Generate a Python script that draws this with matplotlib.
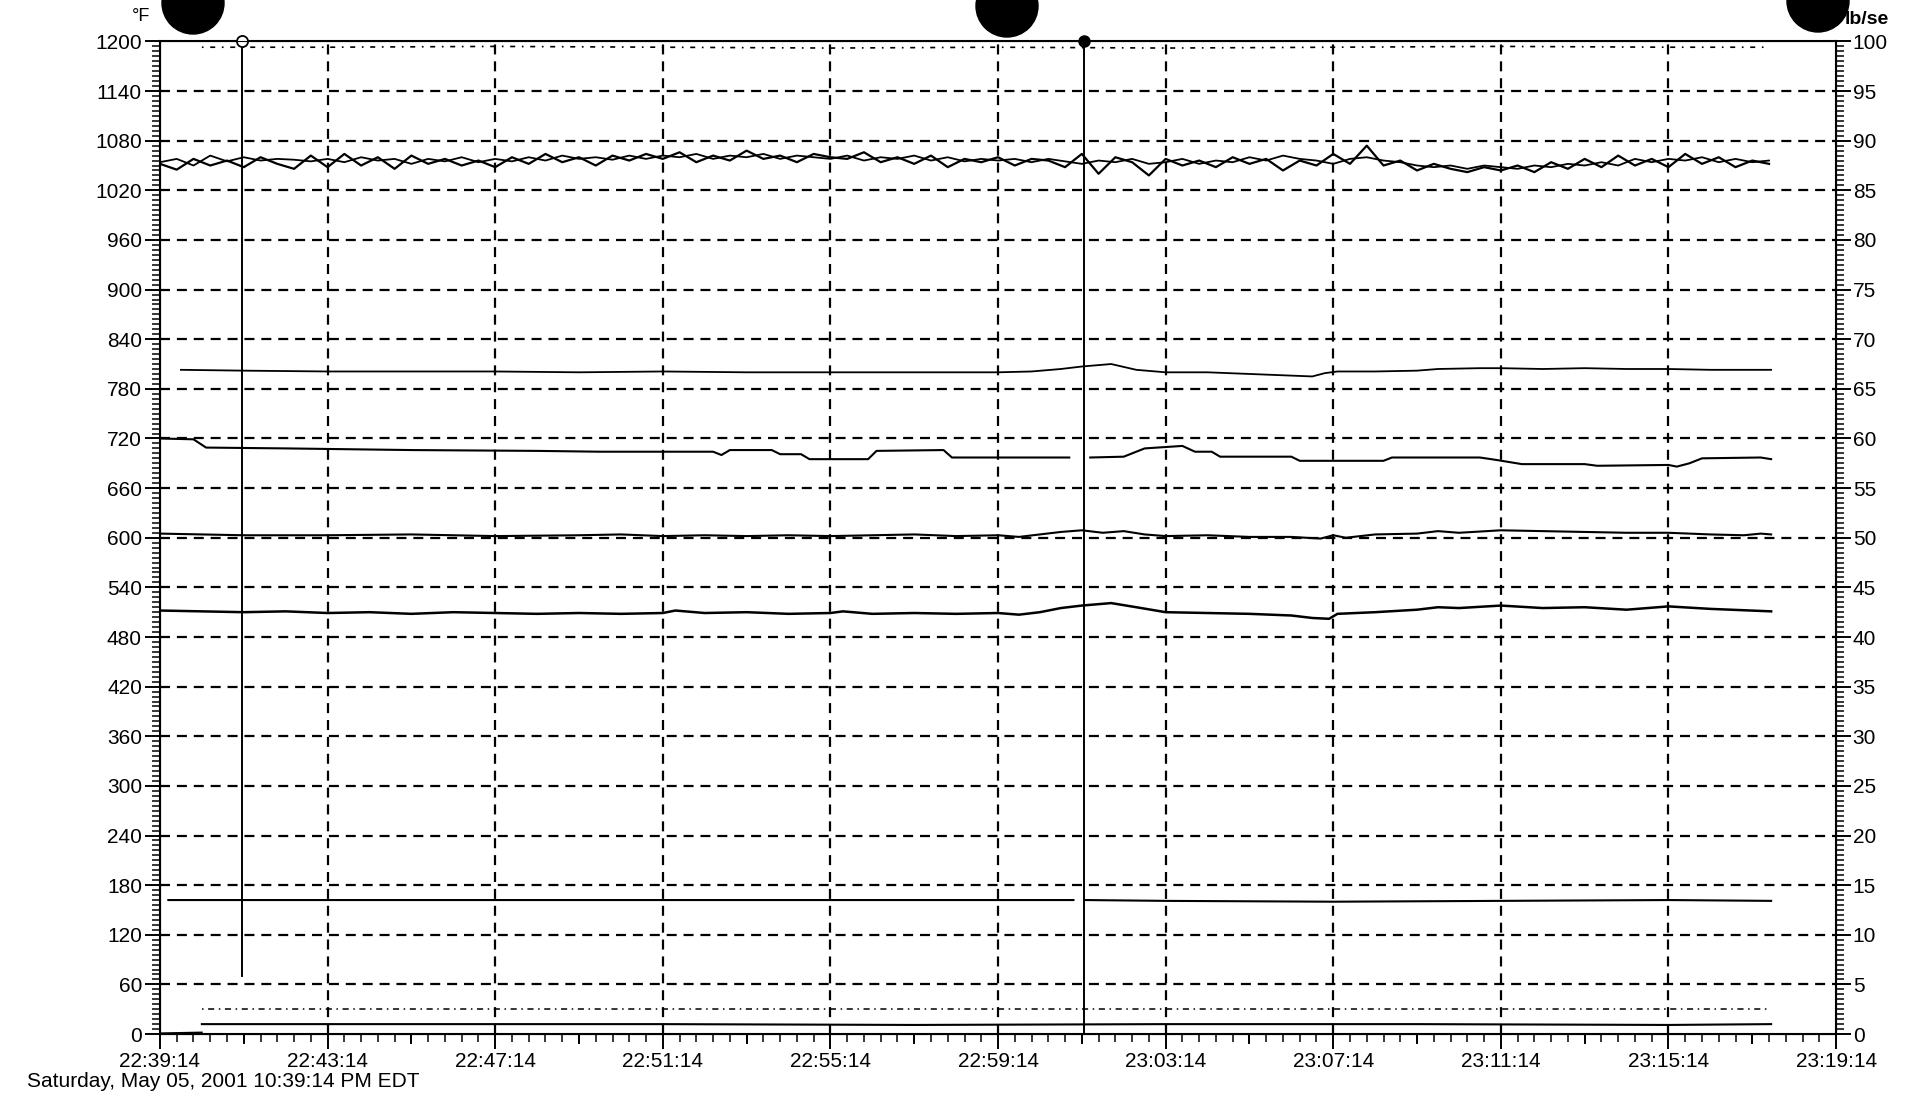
import numpy as np
import matplotlib
matplotlib.use("Agg")
import matplotlib.pyplot as plt
from matplotlib.patches import Ellipse
from matplotlib.ticker import MultipleLocator

plt.rcParams['font.family'] = ['Liberation Sans', 'DejaVu Sans']

# time axis: minutes after 22:39:14
TIME_TICKS = [0, 4, 8, 12, 16, 20, 24, 28, 32, 36, 40]
TIME_LABELS = ["22:39:14", "22:43:14", "22:47:14", "22:51:14", "22:55:14", "22:59:14",
               "23:03:14", "23:07:14", "23:11:14", "23:15:14", "23:19:14"]
DATE_TEXT = "Saturday, May 05, 2001 10:39:14 PM EDT"

# two noisy temperature traces, sampled every 0.4 min
noisy_a = [1052, 1045, 1058, 1050, 1056, 1048, 1060, 1052, 1046, 1062,
           1048, 1064, 1050, 1060, 1046, 1062, 1052, 1058, 1050, 1056,
           1048, 1060, 1052, 1064, 1054, 1060, 1050, 1062, 1056, 1064,
           1058, 1066, 1054, 1062, 1056, 1068, 1058, 1062, 1054, 1064,
           1060, 1058, 1066, 1054, 1060, 1052, 1062, 1048, 1058, 1054,
           1060, 1050, 1058, 1056, 1048, 1064, 1040, 1060, 1054, 1038,
           1058, 1050, 1056, 1048, 1060, 1052, 1058, 1044, 1056, 1050,
           1064, 1052, 1074, 1050, 1056, 1044, 1052, 1046, 1042, 1048,
           1044, 1050, 1042, 1054, 1046, 1058, 1048, 1062, 1050, 1058,
           1048, 1064, 1052, 1060, 1048, 1056, 1052]
noisy_b = [1054, 1058, 1050, 1062, 1055, 1060, 1056, 1058, 1057, 1055,
           1058, 1054, 1060, 1056, 1058, 1052, 1058, 1055, 1060, 1054,
           1058, 1055, 1060, 1056, 1062, 1058, 1060, 1057, 1062, 1058,
           1062, 1060, 1064, 1058, 1062, 1060, 1064, 1058, 1062, 1060,
           1058, 1062, 1056, 1060, 1058, 1062, 1056, 1060, 1055, 1058,
           1056, 1058, 1054, 1058, 1055, 1052, 1056, 1054, 1058, 1052,
           1054, 1058, 1052, 1056, 1054, 1060, 1056, 1062, 1058, 1056,
           1052, 1058, 1060, 1056, 1054, 1050, 1048, 1050, 1046, 1050,
           1048, 1046, 1050, 1048, 1052, 1050, 1054, 1050, 1058, 1054,
           1058, 1056, 1060, 1054, 1058, 1054, 1056]
t_noisy = np.arange(len(noisy_a)) * 0.4

# top trace near full scale
t_top = [1.0, 4, 8, 12, 16, 20, 24, 28, 32, 36, 38.4]
v_top = [1193, 1193, 1194, 1193, 1192, 1193, 1192, 1193, 1194, 1193, 1193]

t_800 = [0.5, 2, 4, 6, 8, 10, 12, 14, 16, 18, 20, 20.8, 21.5, 22, 22.7, 23.3, 24, 25, 26,
         26.5, 27.5, 27.8, 28.1, 29, 30, 30.5, 31.5, 32, 33, 34, 35, 36, 37, 38.45]
v_800 = [803, 802, 801, 801, 801, 800, 801, 800, 800, 800, 800, 801, 804, 807, 810, 803, 800,
         800, 798, 797, 795, 799, 801, 801, 802, 804, 805, 805, 804, 805, 804, 804, 803, 803]

t_700 = [0, 0.8, 1.1, 3, 6, 9, 10.5, 13.2, 13.4, 13.6, 14.6, 14.8, 15.3, 15.5, 16.9, 17.1,
         18.7, 18.9, 21.7, 21.9, 22.2, 23.0, 23.5, 24.4, 24.7, 25.1, 25.3, 27.0, 27.2, 29.2,
         29.4, 31.5, 31.9, 32.5, 34.0, 34.3, 36.0, 36.2, 36.5, 36.8, 38.2, 38.45]
v_700 = [720, 719, 709, 708, 706, 705, 704, 704, 700, 706, 706, 701, 701, 695, 695, 705,
         706, 697, 697, np.nan, 697, 698, 708, 711, 704, 704, 698, 698, 693, 693,
         697, 697, 694, 689, 689, 687, 688, 686, 690, 696, 697, 695]

t_600 = [0, 1, 2, 4, 6, 8, 10, 11, 12, 13, 14, 15, 16, 17, 18, 19, 20, 20.5, 21, 21.5, 22,
         22.5, 23, 23.5, 24, 25, 26, 27, 27.7, 28, 28.3, 29, 30, 30.5, 31, 32, 33, 34, 35,
         36, 37, 37.8, 38.2, 38.45]
v_600 = [605, 604, 603, 603, 604, 602, 603, 604, 602, 603, 602, 603, 602, 603, 604, 602, 603,
         601, 604, 607, 609, 606, 608, 604, 602, 603, 601, 601, 599, 603, 600, 604, 605, 608,
         606, 609, 608, 607, 606, 606, 604, 603, 605, 604]

t_510 = [0, 1, 2, 3, 4, 5, 6, 7, 8, 9, 10, 11, 12, 12.3, 13, 14, 15, 16, 16.3, 17, 18, 19,
         20, 20.5, 21, 21.5, 22, 22.7, 23.3, 24, 25, 26, 27, 27.5, 27.9, 28.1, 29, 30, 30.5,
         31, 32, 33, 34, 35, 36, 37, 38.45]
v_510 = [512, 511, 510, 511, 509, 510, 508, 510, 509, 508, 509, 508, 509, 512, 509, 510, 508,
         509, 511, 508, 509, 508, 509, 507, 510, 515, 518, 521, 516, 510, 509, 508, 506, 503,
         502, 508, 510, 513, 516, 515, 518, 515, 516, 513, 517, 514, 511]

t_160 = [0.2, 4, 8, 12, 16, 20, 21.8, 21.9, 22.1, 24, 28, 32, 36, 38.45]
v_160 = [162, 162, 162, 162, 162, 162, 162, np.nan, 162, 161, 160, 161, 162, 161]

t_30 = [1.0, 6, 12, 18, 24, 30, 36, 38.45]
v_30 = [30, 30, 30, 30, 30, 30, 30, 30]

t_12 = [1.0, 6, 12, 18, 24, 30, 36, 38.45]
v_12 = [12, 12, 12, 11, 12, 12, 11, 12]

t_zero = [0, 1.0]
v_zero = [1, 2]

cursor_1 = 1.95
cursor_2 = 22.05

fig = plt.figure(figsize=(19.09, 10.99), dpi=100)
ax = fig.add_axes([0.0838, 0.0591, 0.8780, 0.9032])

grid_style = dict(color='black', lw=1.6, linestyle=(0, (4.5, 3.1)), zorder=1)
for y in range(60, 1200, 60):
    ax.axhline(y, **grid_style)
for x in TIME_TICKS[1:-1]:
    ax.axvline(x, **grid_style)

line_kw = dict(color='black', lw=1.5, zorder=3)
ax.plot(t_noisy, noisy_a, color='black', lw=1.6, zorder=3)
ax.plot(t_noisy, noisy_b, color='black', lw=1.3, zorder=3)
ax.plot(t_top, v_top, color='black', lw=1.2, linestyle=(0, (1, 4, 3, 4)), zorder=3)
ax.plot(t_800, v_800, color='black', lw=1.3, zorder=3)
ax.plot(t_700, v_700, **line_kw)
ax.plot(t_600, v_600, **line_kw)
ax.plot(t_510, v_510, color='black', lw=1.8, zorder=3)
ax.plot(t_160, v_160, **line_kw)
ax.plot(t_30, v_30, color='black', lw=1.1, linestyle=(0, (1, 3, 4, 3)), zorder=3)
ax.plot(t_12, v_12, **line_kw)
ax.plot(t_zero, v_zero, color='black', lw=1.2, zorder=3)

# cursors
ax.plot([cursor_1, cursor_1], [70, 1200], color='black', lw=1.4, zorder=4)
ax.plot([cursor_2, cursor_2], [0, 1200], color='black', lw=1.4, zorder=4)
ax.plot([cursor_1], [1200], marker='o', ms=8, mfc='white', mec='black', mew=1.3,
        clip_on=False, zorder=5)
ax.plot([cursor_2], [1200], marker='o', ms=8, color='black', clip_on=False, zorder=5)

ax.set_xlim(0, 40)
ax.set_ylim(0, 1200)
ax.set_xticks(TIME_TICKS)
ax.set_xticklabels(TIME_LABELS)
ax.xaxis.set_minor_locator(MultipleLocator(0.4))
ax.set_yticks(range(0, 1201, 60))
ax.yaxis.set_minor_locator(MultipleLocator(6))
ax.tick_params(axis='both', which='major', direction='out', length=11, width=1.4,
               labelsize=15, pad=2)
ax.tick_params(axis='both', which='minor', direction='out', length=6, width=1.1)
for sp in ax.spines.values():
    sp.set_linewidth(1.5)

# medium ticks every 2 minutes
for x in np.arange(2, 40, 4):
    ax.plot([x, x], [0, -11], color='black', lw=1.4, clip_on=False)

ax2 = ax.twinx()
ax2.set_ylim(0, 100)
ax2.set_yticks(range(0, 101, 5))
ax2.yaxis.set_minor_locator(MultipleLocator(0.5))
ax2.tick_params(axis='y', which='major', direction='out', length=11, width=1.4,
                labelsize=15, pad=1)
ax2.tick_params(axis='y', which='minor', direction='out', length=6, width=1.1)

fig.text(0.069, 0.985, "°F", fontsize=13, ha='left', va='center')
fig.text(0.9665, 0.982, "lb/se", fontsize=14, fontweight='bold', ha='left', va='center',
         zorder=11)
fig.text(0.014, 0.0155, DATE_TEXT, fontsize=15, ha='left', va='center')

# punched holes on the scanned sheet
for cx, cy in [(193, 3), (1007, 6), (1818, 1)]:
    fig.patches.append(Ellipse((cx / 1909, 1 - cy / 1099), 62 / 1909, 62 / 1099,
                               transform=fig.transFigure, color='black', zorder=10))

fig.savefig("out.png", dpi=100)
